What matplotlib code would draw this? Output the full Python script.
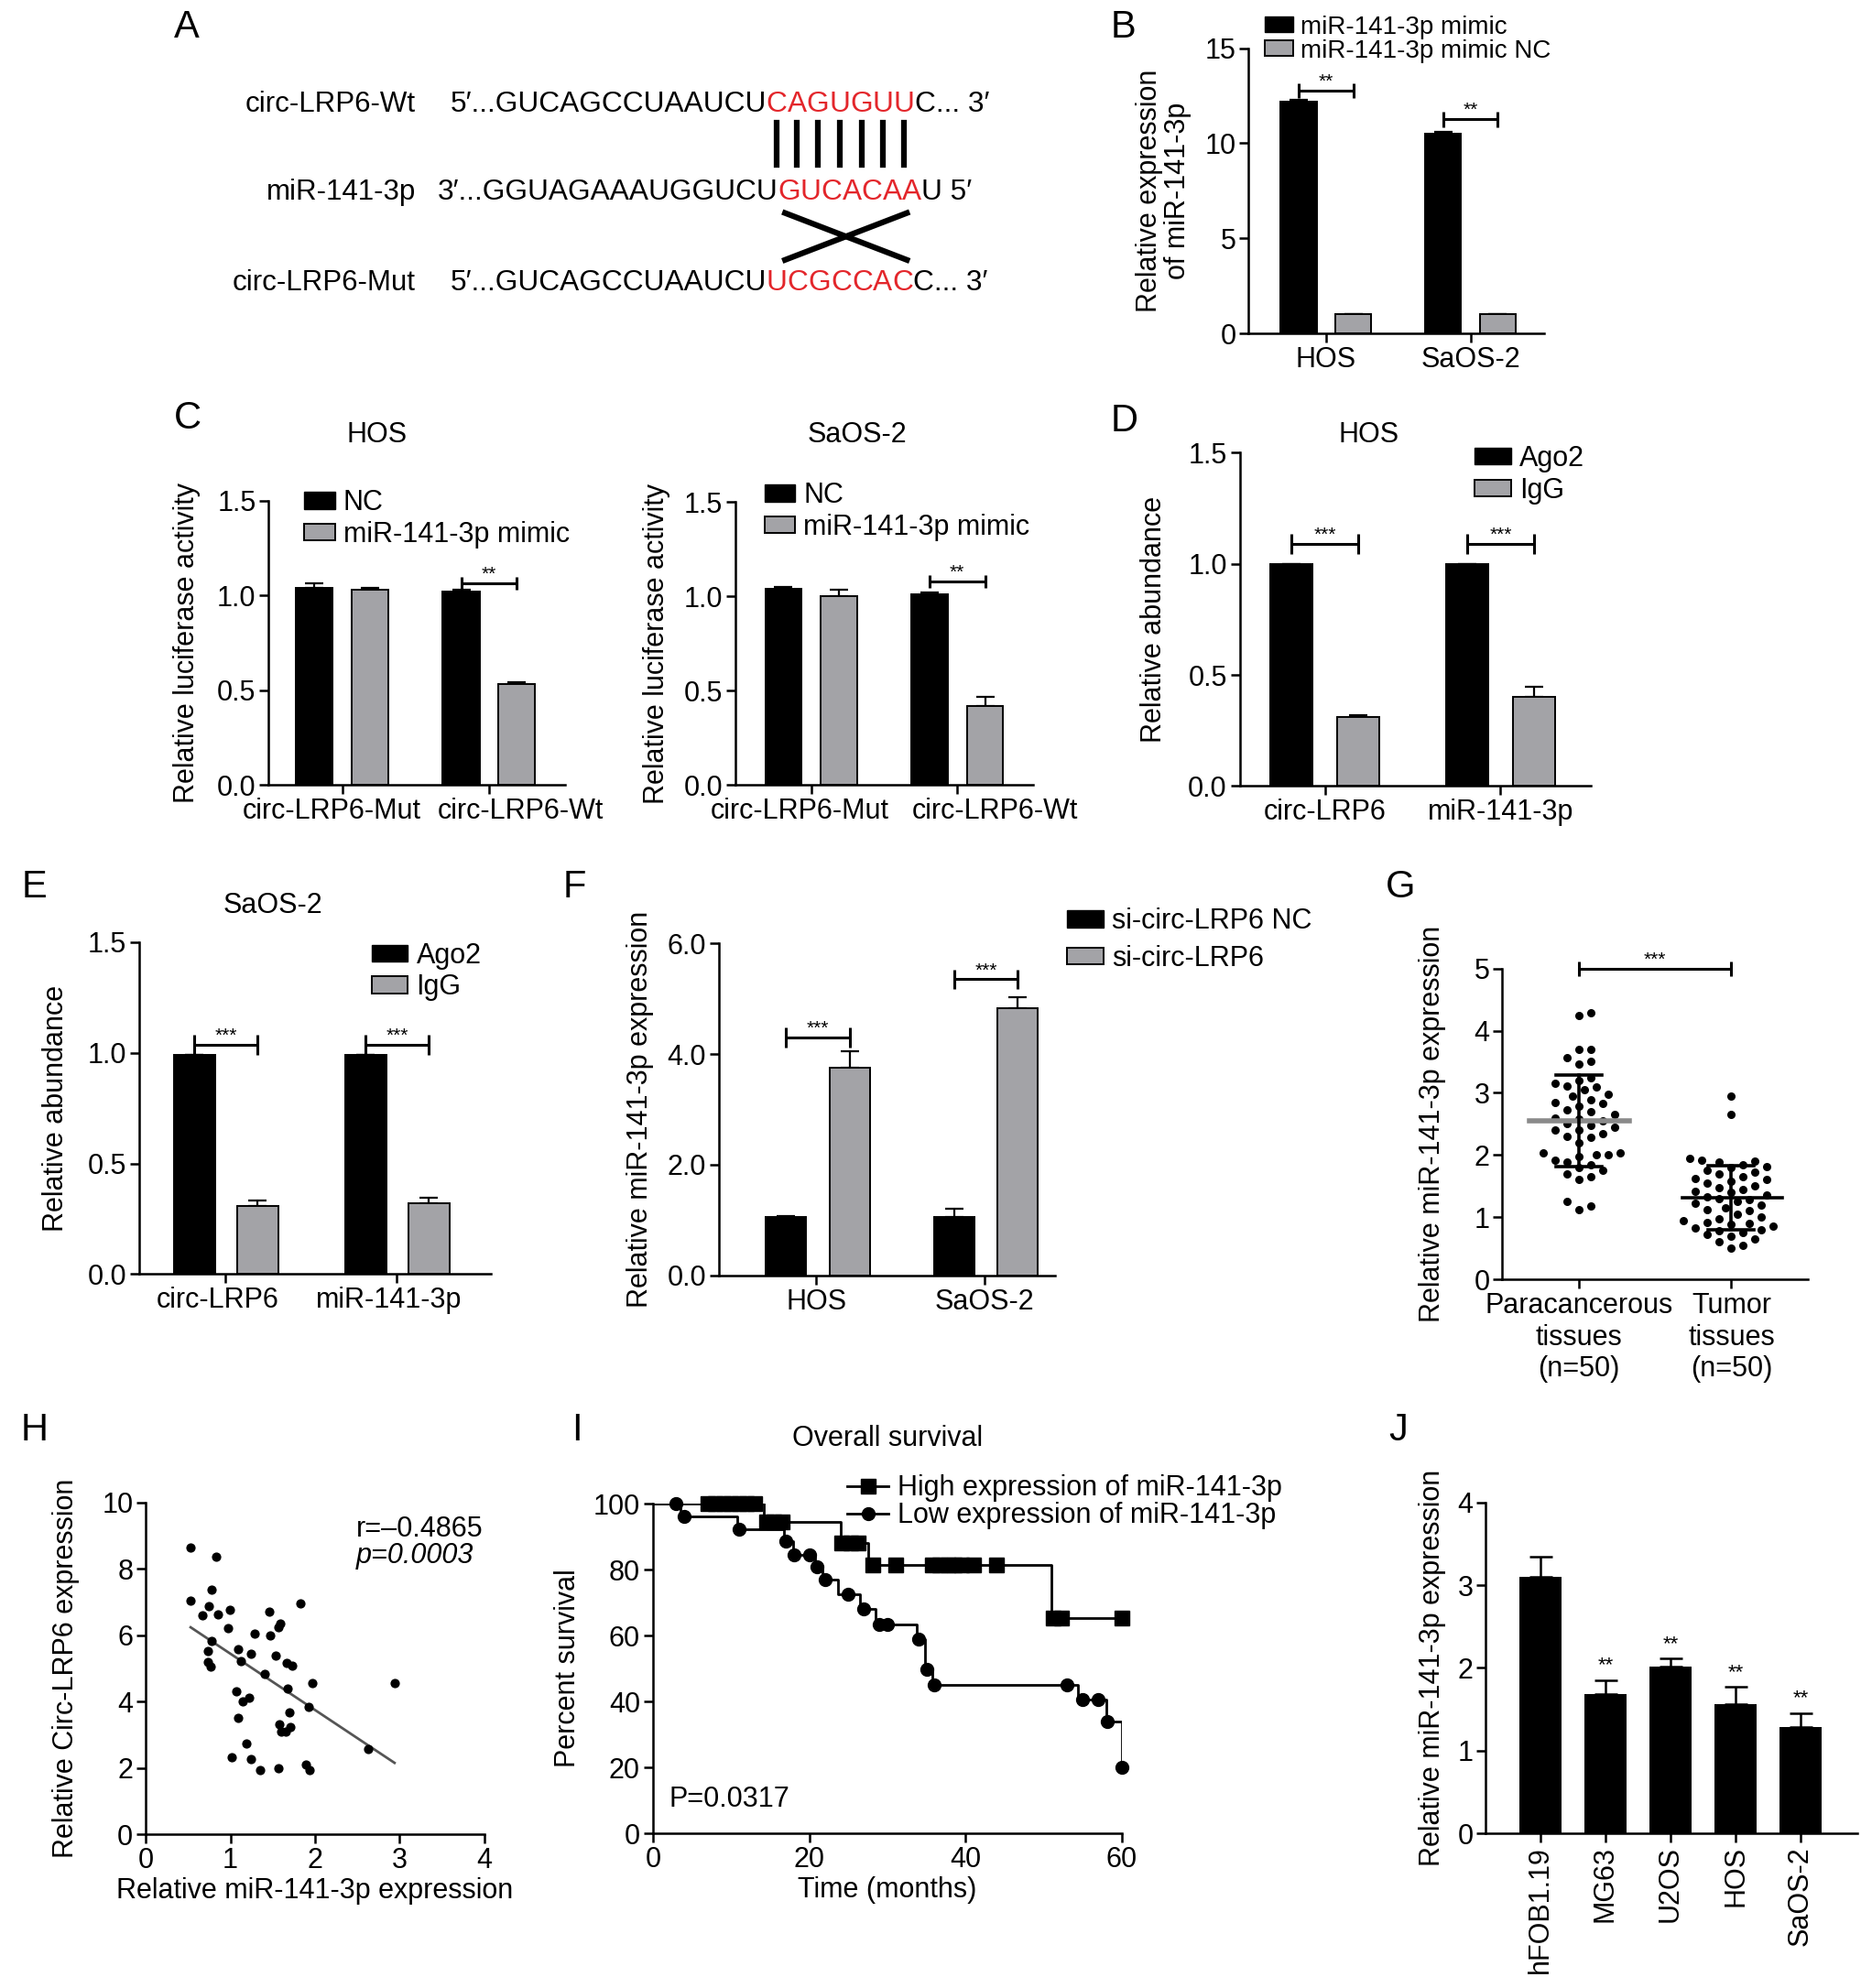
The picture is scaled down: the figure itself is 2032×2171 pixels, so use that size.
import numpy as np
import matplotlib
matplotlib.use('Agg')
import matplotlib.pyplot as plt
import matplotlib.transforms as mtransforms
from matplotlib.patches import Patch
from matplotlib.lines import Line2D

plt.rcParams['font.family'] = ['Liberation Sans', 'DejaVu Sans']
plt.rcParams['font.size'] = 22
plt.rcParams['axes.linewidth'] = 1.8
plt.rcParams['xtick.major.width'] = 1.8
plt.rcParams['ytick.major.width'] = 1.8
plt.rcParams['xtick.major.size'] = 7
plt.rcParams['ytick.major.size'] = 7
plt.rcParams['xtick.labelsize'] = 22
plt.rcParams['ytick.labelsize'] = 22

GRAY = '#a3a3a7'
RED = '#e3262b'

# ---------------- data ----------------
# A - sequences
seq_names = ['circ-LRP6-Wt', 'miR-141-3p', 'circ-LRP6-Mut']
seq_pre = ['5\u2032...GUCAGCCUAAUCU', '3\u2032...GGUAGAAAUGGUCU', '5\u2032...GUCAGCCUAAUCU']
seq_site = ['CAGUGUU', 'GUCACAA', 'UCGCCAC']
seq_post = ['C... 3\u2032', 'U 5\u2032', 'C... 3\u2032']

# B
b_cells = ['HOS', 'SaOS-2']
b_mimic = [12.2, 10.5]
b_mimic_err = [0.08, 0.1]
b_nc = [1.0, 1.0]
b_nc_err = [0.02, 0.02]

# C
c_groups = ['circ-LRP6-Mut', 'circ-LRP6-Wt']
c_hos_nc = [1.04, 1.02]
c_hos_nc_err = [0.025, 0.012]
c_hos_mimic = [1.03, 0.53]
c_hos_mimic_err = [0.01, 0.01]
c_saos_nc = [1.04, 1.01]
c_saos_nc_err = [0.01, 0.012]
c_saos_mimic = [1.00, 0.42]
c_saos_mimic_err = [0.036, 0.045]

# D / E
rip_targets = ['circ-LRP6', 'miR-141-3p']
d_ago2 = [1.0, 1.0]
d_ago2_err = [0.0, 0.0]
d_igg = [0.31, 0.40]
d_igg_err = [0.01, 0.045]
e_ago2 = [0.99, 0.99]
e_ago2_err = [0.0, 0.0]
e_igg = [0.31, 0.32]
e_igg_err = [0.022, 0.025]

# F
f_cells = ['HOS', 'SaOS-2']
f_nc = [1.05, 1.05]
f_nc_err = [0.03, 0.15]
f_si = [3.75, 4.83]
f_si_err = [0.3, 0.2]

# G
g_groups = ['Paracancerous\ntissues\n(n=50)', 'Tumor\ntissues\n(n=50)']
g_para = [4.29, 4.24, 3.70, 3.70, 3.57, 3.51, 3.47,
          3.25, 3.20, 3.15, 3.11, 3.09, 3.05, 2.98, 2.95, 2.89, 2.85,
          2.83, 2.78, 2.72, 2.70, 2.65, 2.60, 2.58, 2.55, 2.50, 2.48,
          2.45, 2.40, 2.40, 2.35, 2.30, 2.28, 2.20, 2.04, 2.03, 2.01,
          2.00, 1.98, 1.92, 1.88, 1.84, 1.80, 1.75, 1.70, 1.65, 1.60,
          1.25, 1.18, 1.12]
g_tumor = [2.95, 2.65, 1.95, 1.92, 1.90, 1.88, 1.85, 1.82, 1.80, 1.75,
           1.72, 1.70, 1.65, 1.62, 1.60, 1.58, 1.55, 1.50, 1.48, 1.45,
           1.42, 1.40, 1.35, 1.32, 1.30, 1.28, 1.25, 1.22, 1.20, 1.15,
           1.12, 1.10, 1.05, 1.00, 0.98, 0.95, 0.92, 0.90, 0.88, 0.85,
           0.82, 0.80, 0.78, 0.75, 0.72, 0.70, 0.65, 0.60, 0.55, 0.50]

# H
h_mir = [0.53, 0.83, 0.53, 0.78, 0.67, 0.75, 0.85, 0.99, 0.97, 0.78,
         0.73, 0.73, 0.77, 1.09, 1.12, 1.24, 1.29, 1.46, 1.47, 1.57,
         1.59, 1.41, 1.53, 1.67, 1.73, 1.83, 1.07, 1.15, 1.22, 1.68,
         1.97, 1.92, 1.70, 1.09, 1.58, 1.60, 1.71, 1.65, 1.19, 1.02,
         1.24, 1.35, 1.57, 1.89, 1.93, 2.63, 2.94]
h_circ = [8.63, 8.37, 7.03, 7.38, 6.59, 6.87, 6.64, 6.78, 6.22, 5.83,
          5.54, 5.20, 5.06, 5.57, 5.23, 5.43, 6.06, 6.71, 6.00, 6.23,
          6.34, 4.83, 5.39, 5.18, 5.09, 6.97, 4.31, 4.00, 4.11, 4.40,
          4.55, 3.85, 3.68, 3.51, 3.31, 3.09, 3.24, 3.11, 2.74, 2.34,
          2.26, 1.94, 2.00, 2.11, 1.94, 2.57, 4.55]

# I - Kaplan-Meier step curves and censor marks
high_t = [0, 14.2, 24.0, 27.6, 51.0, 60.0]
high_s = [100, 94.6, 88.2, 81.4, 65.2, 65.2]
high_marks = [7, 8, 9, 10, 11, 12, 13, 14.5, 15.5, 16.5, 24.2, 25.3, 26.3,
              28.1, 31.1, 35.7, 36.7, 37.7, 38.6, 39.5, 41.0, 43.9, 51.2, 52.3, 60.0]
low_t = [0, 3.5, 10.8, 16.8, 17.9, 20.7, 21.7, 23.7, 26.5, 28.5, 33.8, 34.8,
         35.8, 54.4, 58.0, 60.0]
low_s = [100, 96.1, 92.3, 88.5, 84.6, 80.8, 76.9, 72.6, 68.2, 63.4, 58.9, 49.8,
         45.1, 40.5, 33.8, 20.0]
low_marks = [3, 4, 11, 17, 18, 20, 21, 22, 25, 27, 29, 30, 34, 35, 36, 53, 55, 57, 58.1, 60]

# J
j_cells = ['hFOB1.19', 'MG63', 'U2OS', 'HOS', 'SaOS-2']
j_vals = [3.1, 1.68, 2.02, 1.56, 1.29]
j_err = [0.24, 0.17, 0.09, 0.21, 0.16]
j_sig = ['', '**', '**', '**', '**']

# ---------------- layout helpers ----------------
W, H = 1468.0, 1568.0
fig = plt.figure(figsize=(20.32, 21.71), dpi=100)
renderer = fig.canvas.get_renderer()


def add_ax(x0, y0, x1, y1):
    ax = fig.add_axes([x0 / W, 1 - y1 / H, (x1 - x0) / W, (y1 - y0) / H])
    ax.spines['top'].set_visible(False)
    ax.spines['right'].set_visible(False)
    ax.tick_params(direction='out', pad=3)
    return ax


def ylab(ax, text, x_right, x0, x1, **kw):
    ax.set_ylabel(text, **kw)
    ax.yaxis.set_label_coords((x_right - x0) / (x1 - x0), 0.5)


def letter(x, y, s):
    fig.text(x / W, 1 - y / H, s, fontsize=30, ha='center', va='center')


def title(x, y, s):
    fig.text(x / W, 1 - y / H, s, fontsize=22, ha='center', va='center')


def bars(ax, vals_list, errs_list, colors, offs, width):
    x = np.arange(len(vals_list[0]))
    for v, e, c, o in zip(vals_list, errs_list, colors, offs):
        ax.errorbar(x + o, v, yerr=[np.zeros(len(e)), e], fmt='none', ecolor='k',
                    elinewidth=1.6, capsize=7, capthick=1.6, zorder=2)
        ax.bar(x + o, v, width, color=c, edgecolor='k', linewidth=1.4, zorder=3)
    return x


def bracket(ax, x1, x2, y, h, stars, fs=15):
    kw = dict(color='k', lw=2.2, clip_on=False, solid_capstyle='butt')
    ax.plot([x1, x2], [y, y], **kw)
    ax.plot([x1, x1], [y - h, y + h], **kw)
    ax.plot([x2, x2], [y - h, y + h], **kw)
    ax.text((x1 + x2) / 2, y, stars, ha='center', va='bottom', fontsize=fs)


def cat_labels(ax, labels, shifts, pad=10):
    ax.set_xticks(np.arange(len(labels)))
    ax.set_xticklabels([])
    tr = mtransforms.blended_transform_factory(ax.transData, ax.transAxes)
    for i, (lab, dx) in enumerate(zip(labels, shifts)):
        off = mtransforms.ScaledTranslation(dx / 72, -pad / 72, fig.dpi_scale_trans)
        ax.text(i, 0, lab, transform=tr + off, ha='center', va='top', fontsize=22)


def leg(handles, labels, x, y, fs=22, **kw):
    opts = dict(loc='upper left', bbox_to_anchor=(x / W, 1 - y / H), frameon=False,
                fontsize=fs, borderpad=0, borderaxespad=0, handlelength=1.1,
                handleheight=0.55, handletextpad=0.3, labelspacing=0.15)
    opts.update(kw)
    fig.legend(handles, labels, **opts)


def fmt1(ax, ticks):
    ax.set_yticks(ticks)
    ax.set_yticklabels(['%.1f' % t for t in ticks])


black_patch = Patch(facecolor='k', edgecolor='k')
gray_patch = Patch(facecolor=GRAY, edgecolor='k', linewidth=1.4)

# ---------------- A ----------------
letter(147, 22, 'A')
row_y = [82, 152, 223]
row_x = [355, 345, 355]
site_boxes = []
for name, pre, site, post, yy, xx in zip(seq_names, seq_pre, seq_site, seq_post, row_y, row_x):
    fig.text(328 / W, 1 - yy / H, name, fontsize=22.5, ha='right', va='center')
    xf = xx / W
    boxes = []
    for piece, col in [(pre, 'k')] + [(ch, RED) for ch in site] + [(post, 'k')]:
        t = fig.text(xf, 1 - yy / H, piece, color=col, fontsize=22.8, ha='left', va='center')
        bb = t.get_window_extent(renderer)
        xf = bb.x1 / fig.bbox.width
        if col == RED:
            boxes.append(bb)
    site_boxes.append(boxes)

fw = fig.bbox.width
for bb in site_boxes[0]:
    xc = (bb.x0 + bb.x1) / 2 / fw
    fig.add_artist(Line2D([xc, xc], [1 - 97 / H, 1 - 130 / H], color='k', lw=4.5,
                          transform=fig.transFigure))
s0 = site_boxes[1][0].x0 / fw
s1 = site_boxes[1][-1].x1 / fw
xa, xb = s0 + 0.05 * (s1 - s0), s0 + 0.9 * (s1 - s0)
for ya, yb in [(168, 205), (205, 168)]:
    fig.add_artist(Line2D([xa, xb], [1 - ya / H, 1 - yb / H], color='k', lw=4.5,
                          transform=fig.transFigure))

# ---------------- B ----------------
letter(886, 22, 'B')
axB = add_ax(985, 38, 1218, 263)
bars(axB, [b_mimic, b_nc], [b_mimic_err, b_nc_err], ['k', GRAY], [-0.19, 0.19], 0.25)
axB.set_xlim(-0.535, 1.51)
axB.set_ylim(0, 15)
axB.set_yticks([0, 5, 10, 15])
cat_labels(axB, b_cells, [0, 0])
bracket(axB, -0.19, 0.19, 12.77, 0.4, '**')
bracket(axB, 0.81, 1.19, 11.26, 0.4, '**')
ylab(axB, 'Relative expression\nof miR-141-3p', 940, 985, 1218, linespacing=1.05)
leg([black_patch, gray_patch], ['miR-141-3p mimic', 'miR-141-3p mimic NC'], 998, 12,
    fs=20, labelspacing=0.0)

# ---------------- C ----------------
letter(148, 330, 'C')
title(297, 343, 'HOS')
axC1 = add_ax(212, 395, 446, 619)
bars(axC1, [c_hos_nc, c_hos_mimic], [c_hos_nc_err, c_hos_mimic_err], ['k', GRAY], [-0.19, 0.19], 0.25)
axC1.set_xlim(-0.5, 1.52)
axC1.set_ylim(0, 1.5)
fmt1(axC1, [0, 0.5, 1.0, 1.5])
cat_labels(axC1, c_groups, [-8, 25])
bracket(axC1, 0.81, 1.19, 1.065, 0.035, '**')
ylab(axC1, 'Relative luciferase activity', 158, 212, 446)
leg([black_patch, gray_patch], ['NC', 'miR-141-3p mimic'], 240, 386)

title(676, 343, 'SaOS-2')
axC2 = add_ax(580, 396, 815, 619)
bars(axC2, [c_saos_nc, c_saos_mimic], [c_saos_nc_err, c_saos_mimic_err], ['k', GRAY], [-0.19, 0.19], 0.25)
axC2.set_xlim(-0.52, 1.52)
axC2.set_ylim(0, 1.5)
fmt1(axC2, [0, 0.5, 1.0, 1.5])
cat_labels(axC2, c_groups, [-9, 30])
bracket(axC2, 0.81, 1.19, 1.08, 0.035, '**')
ylab(axC2, 'Relative luciferase activity', 529, 580, 815)
leg([black_patch, gray_patch], ['NC', 'miR-141-3p mimic'], 603, 380)

# ---------------- D ----------------
letter(887, 332, 'D')
title(1080, 343, 'HOS')
axD = add_ax(978, 357, 1255, 620)
bars(axD, [d_ago2, d_igg], [d_ago2_err, d_igg_err], ['k', GRAY], [-0.19, 0.19], 0.24)
axD.set_xlim(-0.485, 1.515)
axD.set_ylim(0, 1.5)
fmt1(axD, [0, 0.5, 1.0, 1.5])
cat_labels(axD, rip_targets, [0, 0])
bracket(axD, -0.19, 0.19, 1.09, 0.045, '***')
bracket(axD, 0.81, 1.19, 1.09, 0.045, '***')
ylab(axD, 'Relative abundance', 921, 978, 1255)
leg([black_patch, gray_patch], ['Ago2', 'IgG'], 1163, 351, handlelength=1.3)

# ---------------- E ----------------
letter(27, 700, 'E')
title(215, 714, 'SaOS-2')
axE = add_ax(110, 743, 387, 1005)
bars(axE, [e_ago2, e_igg], [e_ago2_err, e_igg_err], ['k', GRAY], [-0.18, 0.19], 0.24)
axE.set_xlim(-0.5, 1.55)
axE.set_ylim(0, 1.5)
fmt1(axE, [0, 0.5, 1.0, 1.5])
cat_labels(axE, rip_targets, [-6, -6])
bracket(axE, -0.18, 0.19, 1.035, 0.045, '***')
bracket(axE, 0.82, 1.19, 1.035, 0.045, '***')
ylab(axE, 'Relative abundance', 55, 110, 387)
leg([black_patch, gray_patch], ['Ago2', 'IgG'], 293, 743, handlelength=1.3)

# ---------------- F ----------------
letter(453, 700, 'F')
axF = add_ax(567, 744, 832, 1006)
bars(axF, [f_nc, f_si], [f_nc_err, f_si_err], ['k', GRAY], [-0.18, 0.2], 0.24)
axF.set_xlim(-0.58, 1.42)
axF.set_ylim(0, 6)
fmt1(axF, [0, 2, 4, 6])
cat_labels(axF, f_cells, [0, 0])
bracket(axF, -0.18, 0.2, 4.3, 0.18, '***')
bracket(axF, 0.82, 1.2, 5.35, 0.18, '***')
ylab(axF, 'Relative miR-141-3p expression', 516, 567, 832)
leg([black_patch, gray_patch], ['si-circ-LRP6 NC', 'si-circ-LRP6'], 842, 716,
    labelspacing=0.35, handlelength=1.3)

# ---------------- G ----------------
letter(1105, 700, 'G')
gx0, gy0, gx1, gy1 = 1185, 764, 1426, 1009
axG = add_ax(gx0, gy0, gx1, gy1)
axG.set_xlim(-0.5, 1.5)
axG.set_ylim(0, 5)
wpx = (gx1 - gx0) * 2032 / W
hpx = (gy1 - gy0) * 2171 / H
sx, sy = wpx / 2.0, hpx / 5.0


def swarm(vals, center, dist=12.0, step=6.5):
    vals = np.asarray(vals, dtype=float)
    xs = np.zeros(len(vals))
    placed = []
    offs = [0.0]
    for k in range(1, 40):
        offs += [k * step, -k * step]
    for i in np.argsort(vals):
        ypx = vals[i] * sy
        for o in offs:
            if all((o - px) ** 2 + (ypx - py) ** 2 >= dist ** 2 for px, py in placed):
                placed.append((o, ypx))
                xs[i] = center + o / sx
                break
    return xs


for i, (grp, mcol, mlw) in enumerate([(g_para, '#8a8a8a', 4.0), (g_tumor, 'k', 2.6)]):
    xs = swarm(grp, i)
    axG.scatter(xs, grp, s=30, color='k', zorder=3, clip_on=False)
    m = np.mean(grp)
    sd = np.std(grp, ddof=1)
    axG.plot([i - 0.32, i + 0.33], [m, m], color=mcol, lw=mlw, zorder=4)
    axG.plot([i, i], [m - sd, m + sd], color='k', lw=2.6, zorder=4)
    for yy in (m - sd, m + sd):
        axG.plot([i - 0.15, i + 0.15], [yy, yy], color='k', lw=2.6, zorder=4)
axG.set_yticks([0, 1, 2, 3, 4, 5])
axG.set_xticks([0, 1])
axG.set_xticklabels(g_groups, linespacing=1.2)
bracket(axG, 0, 1, 5.0, 0.12, '***')
ylab(axG, 'Relative miR-141-3p expression', 1141, gx0, gx1)

# ---------------- H ----------------
letter(27, 1128, 'H')
axH = add_ax(115, 1185, 382, 1447)
axH.scatter(h_mir, h_circ, s=40, color='k', zorder=3)
coef = np.polyfit(h_mir, h_circ, 1)
xl = np.array([min(h_mir), max(h_mir)])
axH.plot(xl, np.polyval(coef, xl), color='#555555', lw=2)
axH.set_xlim(0, 4)
axH.set_ylim(0, 10)
axH.set_xticks([0, 1, 2, 3, 4])
axH.set_yticks([0, 2, 4, 6, 8, 10])
axH.text(2.49, 9.2, 'r=\u20130.4865', fontsize=22, va='center')
axH.text(2.49, 8.4, 'p=0.0003', fontsize=22, va='center', style='italic')
axH.set_xlabel('Relative miR-141-3p expression', labelpad=2)
ylab(axH, 'Relative Circ-LRP6 expression', 63, 115, 382)

# ---------------- I ----------------
letter(455, 1128, 'I')
title(700, 1135, 'Overall survival')
axI = add_ax(515, 1186, 885, 1446)
for t, s, marks, mk, ms in [(high_t, high_s, high_marks, 's', 11), (low_t, low_s, low_marks, 'o', 10)]:
    axI.step(t, s, where='post', color='k', lw=2, zorder=2)
    idx = np.searchsorted(t, marks, side='right') - 1
    axI.plot(marks, np.asarray(s)[idx], ls='none', marker=mk, ms=ms, color='k',
             zorder=3, clip_on=False)
axI.set_xlim(0, 60)
axI.set_ylim(0, 100)
axI.set_xticks([0, 20, 40, 60])
axI.set_yticks([0, 20, 40, 60, 80, 100])
axI.text(2.1, 10.3, 'P=0.0317', fontsize=22, va='center')
axI.set_xlabel('Time (months)', labelpad=2)
ylab(axI, 'Percent survival', 459, 515, 885)
leg([Line2D([], [], color='k', lw=2, marker='s', ms=11),
     Line2D([], [], color='k', lw=2, marker='o', ms=10)],
    ['High expression of miR-141-3p', 'Low expression of miR-141-3p'], 668, 1163,
    handlelength=1.5, handletextpad=0.3, labelspacing=0.0)

# ---------------- J ----------------
letter(1103, 1128, 'J')
axJ = add_ax(1172, 1185, 1465, 1446)
xj = np.arange(len(j_cells))
axJ.errorbar(xj, j_vals, yerr=[np.zeros(len(j_err)), j_err], fmt='none', ecolor='k',
             elinewidth=1.8, capsize=9, capthick=1.8, zorder=2)
axJ.bar(xj, j_vals, 0.64, color='k', zorder=3)
for xi, v, e, sg in zip(xj, j_vals, j_err, j_sig):
    axJ.text(xi, v + e + 0.06, sg, ha='center', va='bottom', fontsize=16)
axJ.set_xlim(-0.84, 4.87)
axJ.set_ylim(0, 4)
axJ.set_yticks([0, 1, 2, 3, 4])
axJ.set_xticks(xj)
axJ.set_xticklabels(j_cells, rotation=90)
ylab(axJ, 'Relative miR-141-3p expression', 1141, 1172, 1465)

fig.savefig('out.png', dpi=100)
